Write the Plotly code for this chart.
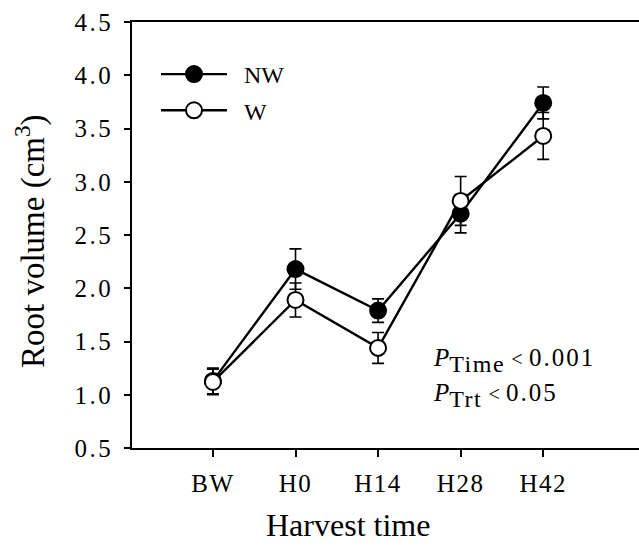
import plotly.graph_objects as go

categories = ["BW", "H0", "H14", "H28", "H42"]
nw_values = [1.13, 2.18, 1.79, 2.70, 3.74]
nw_se = [0.12, 0.19, 0.11, 0.18, 0.15]
w_values = [1.12, 1.89, 1.44, 2.82, 3.43]
w_se = [0.12, 0.16, 0.145, 0.23, 0.22]
y_ticks = [0.5, 1.0, 1.5, 2.0, 2.5, 3.0, 3.5, 4.0, 4.5]

FONT = "Liberation Serif"
L, R, T, B, W, H = 132, 0, 22, 105, 639, 553
PW, PH = W - L - R, H - T - B

def px_x(px):
    return (px - L) / PW

def px_y(py):
    return (H - B - py) / PH

def spaced(s, ls):
    return f"<span style='letter-spacing:{ls}px'>{s}</span>"

fig = go.Figure()
fig.add_trace(go.Scatter(
    x=categories, y=nw_values, name="\u00a0\u00a0NW", mode="lines+markers", legendgroup="nw",
    line=dict(color="black", width=2.4),
    marker=dict(symbol="circle", size=16, color="black", line=dict(color="black", width=2)),
    error_y=dict(type="data", array=nw_se, color="black", thickness=1.6, width=6),
))
fig.add_trace(go.Scatter(
    x=categories, y=w_values, name="\u00a0\u00a0W", mode="lines+markers", legendgroup="w",
    line=dict(color="black", width=2.4),
    marker=dict(symbol="circle", size=16, color="white", line=dict(color="black", width=2)),
    error_y=dict(type="data", array=w_se, color="black", thickness=1.6, width=6),
))

def ptext(sub, val):
    return ("<i>P</i><span style='font-size:24px;baseline-shift:-6px;letter-spacing:1.5px'>" + sub + "</span>"
            " <span style='font-size:20px'><</span> "
            "<span style='letter-spacing:2px'>" + val + "</span>")

fig.add_annotation(x=px_x(431), y=px_y(360), xref="paper", yref="paper", xanchor="left", yanchor="middle",
                   text=ptext("Time", "0.001"), showarrow=False,
                   font=dict(family=FONT, size=25, color="black"))
fig.add_annotation(x=px_x(431), y=px_y(395), xref="paper", yref="paper", xanchor="left", yanchor="middle",
                   text=ptext("Trt", "0.05"), showarrow=False,
                   font=dict(family=FONT, size=25, color="black"))
# axis titles
fig.add_annotation(x=px_x(348), y=px_y(525), xref="paper", yref="paper", xanchor="center", yanchor="middle",
                   text="Harvest time", showarrow=False,
                   font=dict(family=FONT, size=32, color="black"))
fig.add_annotation(x=px_x(30), y=px_y(241), xref="paper", yref="paper", xanchor="center", yanchor="middle",
                   text="Root volume (cm<sup>3</sup>)", showarrow=False, textangle=-90,
                   font=dict(family=FONT, size=33, color="black"))

fig.update_layout(
    width=W, height=H,
    margin=dict(l=L, r=R, t=T, b=B, pad=0),
    paper_bgcolor="white", plot_bgcolor="white",
    font=dict(family=FONT, size=24, color="black"),
    showlegend=True,
    legend=dict(x=px_x(156), y=px_y(52), xanchor="left", yanchor="top", bgcolor="rgba(0,0,0,0)",
                font=dict(family=FONT, size=24), itemwidth=66, tracegroupgap=2,
                traceorder="grouped"),
    xaxis=dict(type="category", categoryorder="array", categoryarray=categories,
               tickvals=categories, ticktext=[spaced(c, 1.5) for c in categories],
               range=[-0.98, 5.16], showgrid=False, zeroline=False,
               showline=True, linecolor="black", linewidth=1.5, mirror=True,
               ticks="outside", ticklen=7, tickwidth=1.5, tickcolor="black",
               ticklabelstandoff=5,
               tickfont=dict(family=FONT, size=25)),
    yaxis=dict(range=[0.5, 4.5], tickvals=y_ticks, ticktext=[spaced(f"{v:.1f}", 2.5) for v in y_ticks],
               showgrid=False, zeroline=False,
               showline=True, linecolor="black", linewidth=1.5,
               ticks="outside", ticklen=6, tickwidth=1.5, tickcolor="black",
               ticklabelstandoff=6,
               tickfont=dict(family=FONT, size=25)),
)

fig.write_html("out.html")
